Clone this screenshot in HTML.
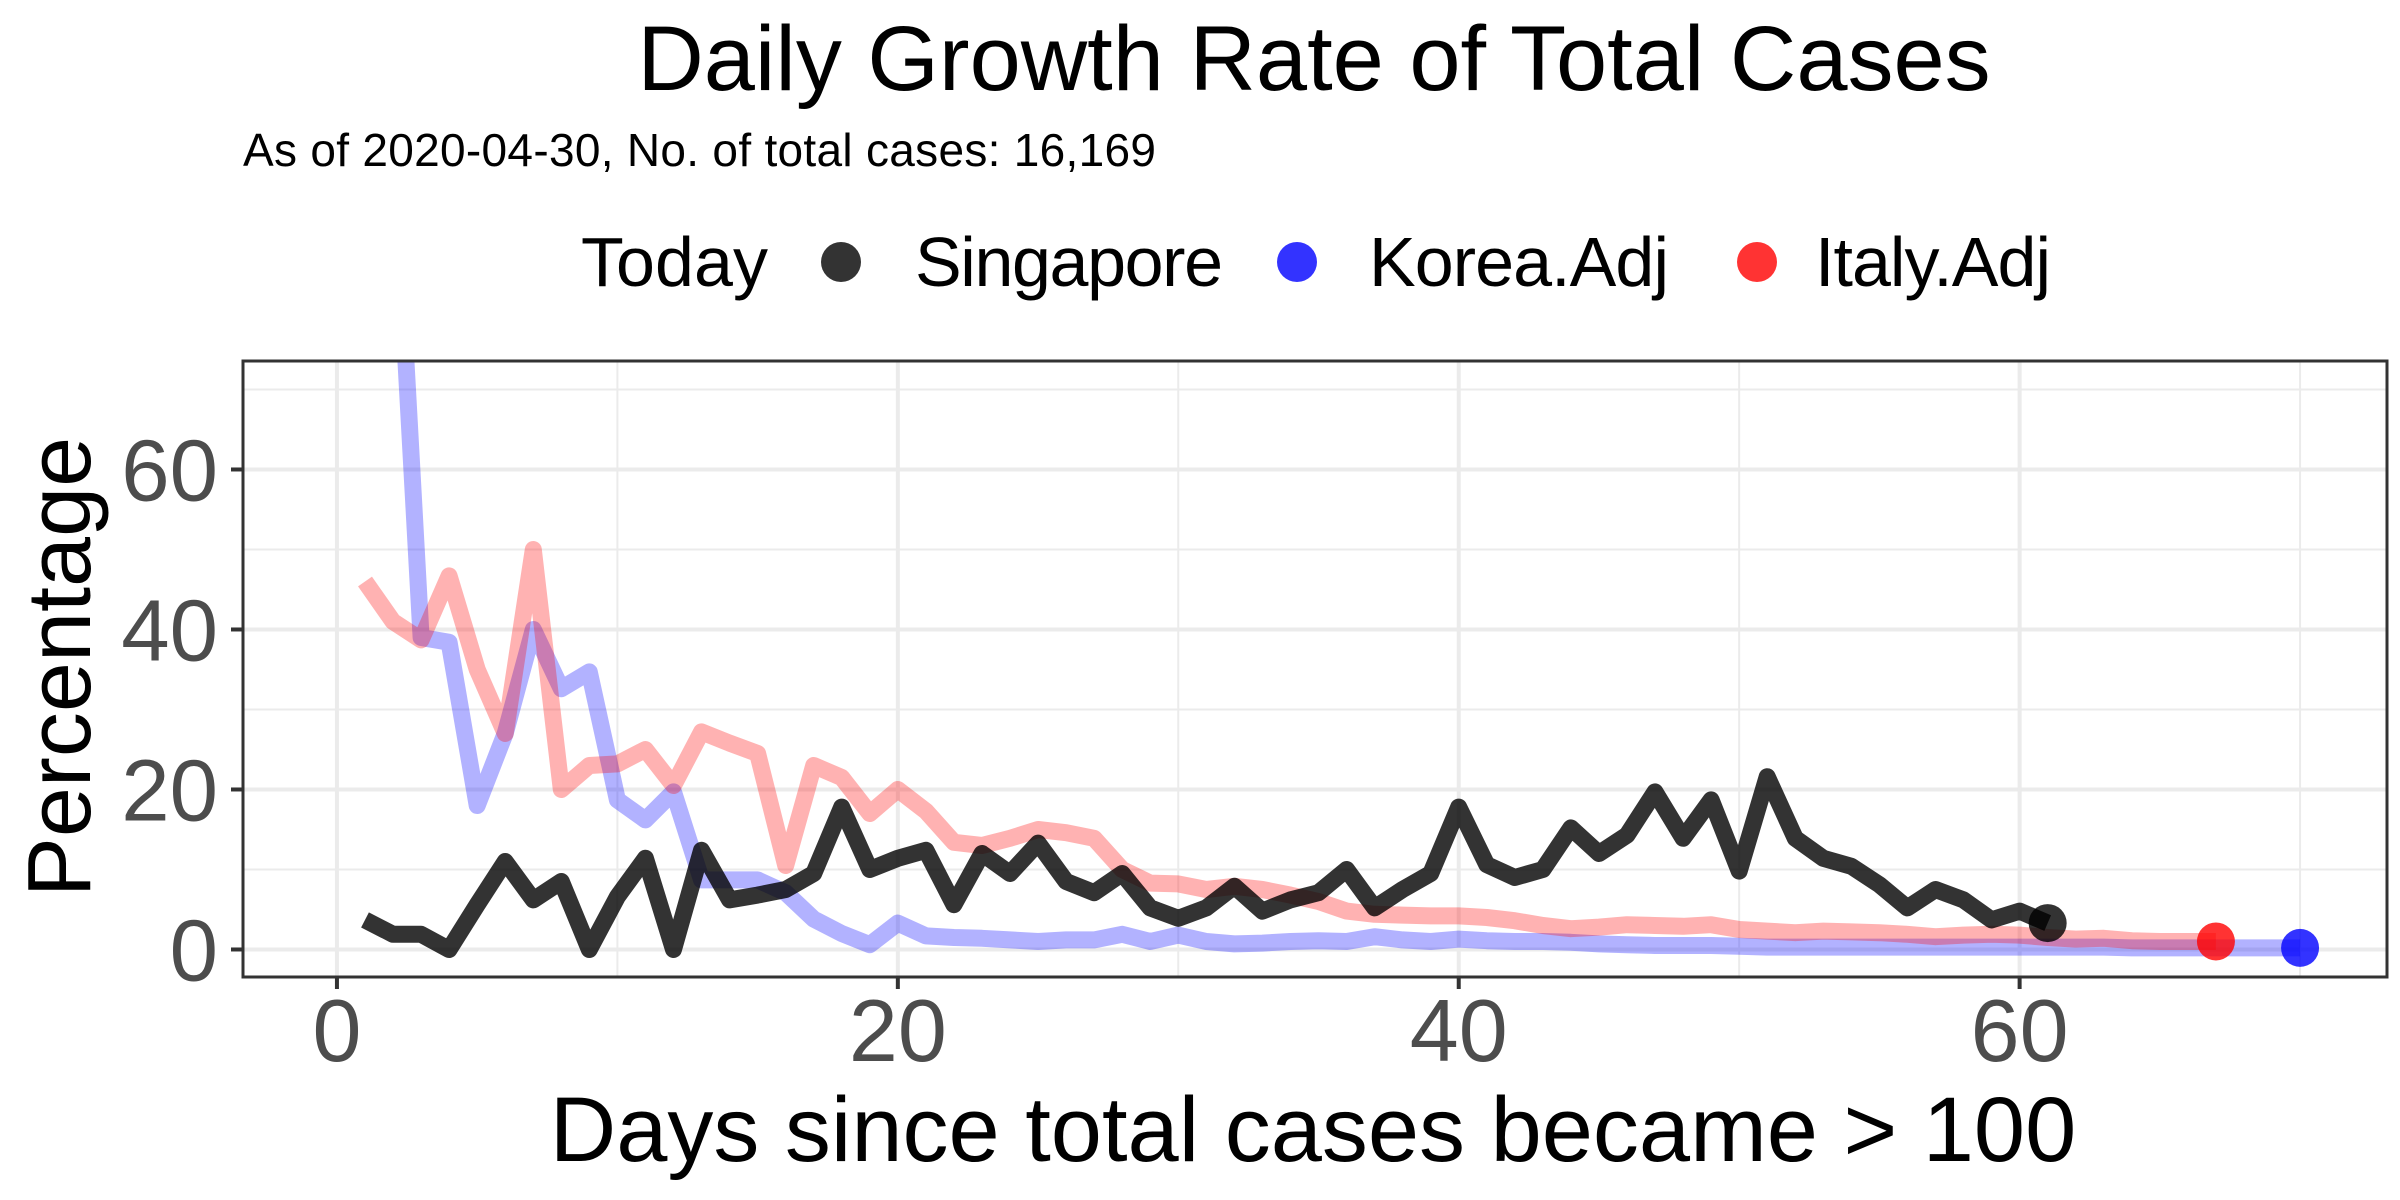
<!DOCTYPE html>
<html><head><meta charset="utf-8">
<style>
html,body{margin:0;padding:0;background:#fff;}
svg{display:block;font-family:"Liberation Sans",Arial,sans-serif;}
</style></head>
<body>
<svg id="chart" width="2400" height="1200" viewBox="0 0 2400 1200">
  <text x="1314" y="90" font-size="92" text-anchor="middle" fill="#000">Daily Growth Rate of Total Cases</text>
  <text x="243" y="166" font-size="46" fill="#000" textLength="913">As of 2020-04-30, No. of total cases: 16,169</text>
  <g>
    <text x="581" y="286" font-size="70" fill="#000" textLength="187">Today</text>
    <g>
      <circle cx="841" cy="262" r="20" fill="#000" fill-opacity="0.8"/>
      <text x="915" y="286" font-size="70" fill="#000" textLength="308">Singapore</text>
    </g>
    <g>
      <circle cx="1297" cy="262" r="20" fill="#0000ff" fill-opacity="0.8"/>
      <text x="1369" y="286" font-size="70" fill="#000" textLength="300">Korea.Adj</text>
    </g>
    <g>
      <circle cx="1757" cy="262" r="20" fill="#ff0000" fill-opacity="0.8"/>
      <text x="1815" y="286" font-size="70" fill="#000" textLength="236">Italy.Adj</text>
    </g>
  </g>
  <defs><clipPath id="pclip"><rect x="243" y="361" width="2144" height="616"/></clipPath></defs>
  <g id="grid"></g>
  <g id="series" clip-path="url(#pclip)"></g>
  <rect x="243" y="361" width="2144" height="616" fill="none" stroke="#333" stroke-width="3"/>
  <g id="axes"></g>
  <text transform="translate(90,667) rotate(-90)" font-size="90" text-anchor="middle" fill="#000">Percentage</text>
  <text x="1313" y="1161" font-size="92" text-anchor="middle" fill="#000">Days since total cases became &gt; 100</text>
</svg>
<script>
const xTicks = [0, 20, 40, 60];
const xMinor = [10, 30, 50, 70];
const yTicks = [0, 20, 40, 60];
const yMinor = [10, 30, 50, 70];
const singapore = [3.7,1.9,1.9,0,5.6,11,6.2,8.5,0,6.6,11.4,0,12.4,6.2,6.8,7.5,9.5,17.8,10,11.4,12.4,5.6,12,9.5,13.3,8.5,7.1,9.5,5.2,3.9,5.2,7.9,4.8,6.2,7.1,10,5.2,7.5,9.5,17.8,10.6,9,10,15.2,12,14.3,19.7,13.9,18.7,9.8,21.6,13.9,11.4,10.4,8.1,5.2,7.5,6.2,3.7,4.8,3.3];
const korea = [120,103,39,38.4,18,27,40,32.6,34.7,18.7,16.2,19.7,8.7,8.7,8.7,7.1,3.8,2,0.6,3.3,1.7,1.5,1.4,1.2,1,1.2,1.2,1.9,1,1.8,1,0.7,0.8,1,1.1,1,1.6,1.2,1,1.3,1.1,1,1,0.9,0.7,0.6,0.5,0.5,0.5,0.4,0.3,0.3,0.3,0.3,0.3,0.3,0.3,0.3,0.3,0.3,0.3,0.3,0.3,0.2,0.2,0.2,0.2,0.2,0.2,0.2];
const italy = [46,41,38.7,46.7,35,27,50,20,23,23.2,25,20.5,27.2,25.8,24.5,10.5,23,21.5,17,20,17.3,13.4,13,13.9,15,14.6,13.9,10,8.3,8.2,7.5,7.9,7.5,6.8,6,4.8,4.4,4.3,4.2,4.2,4,3.6,3,2.6,2.8,3.1,3,2.9,3.1,2.5,2.3,2.1,2.3,2.2,2.1,1.9,1.6,1.8,1.9,1.8,1.5,1.3,1.4,1.1,1,1,1];

const NS='http://www.w3.org/2000/svg';
const PL=243,PR=2387,PT=361,PB=977;
const XMIN=-3.35,XMAX=73.1,YMIN=-3.44,YMAX=73.56;
function xs(v){return PL+(v-XMIN)/(XMAX-XMIN)*(PR-PL);}
function ys(v){return PB-(v-YMIN)/(YMAX-YMIN)*(PB-PT);}
function mk(tag,attrs,parent){const e=document.createElementNS(NS,tag);for(const k in attrs)e.setAttribute(k,attrs[k]);parent.appendChild(e);return e;}

const grid=document.getElementById('grid');
const axes=document.getElementById('axes');
const series=document.getElementById('series');
mk('rect',{x:PL,y:PT,width:PR-PL,height:PB-PT,fill:'#fff'},grid);
yMinor.forEach(v=>{const l=mk('line',{x1:PL,x2:PR,y1:ys(v),y2:ys(v),stroke:'#ebebeb','stroke-width':2},grid);

});
xMinor.forEach(v=>{const l=mk('line',{x1:xs(v),x2:xs(v),y1:PT,y2:PB,stroke:'#ebebeb','stroke-width':2},grid);

});
yTicks.forEach(v=>{const l=mk('line',{x1:PL,x2:PR,y1:ys(v),y2:ys(v),stroke:'#ebebeb','stroke-width':4},grid);


const t=mk('line',{x1:231,x2:PL,y1:ys(v),y2:ys(v),stroke:'#333','stroke-width':4},axes);


const tx=mk('text',{x:218,y:ys(v)+31,'font-size':87,'text-anchor':'end',fill:'#4d4d4d'},axes);
tx.textContent=String(v);

});
xTicks.forEach(v=>{const l=mk('line',{x1:xs(v),x2:xs(v),y1:PT,y2:PB,stroke:'#ebebeb','stroke-width':4},grid);


const t=mk('line',{x1:xs(v),x2:xs(v),y1:PB,y2:PB+12,stroke:'#333','stroke-width':4},axes);


const tx=mk('text',{x:xs(v),y:1061,'font-size':88,'text-anchor':'middle',fill:'#4d4d4d'},axes);
tx.textContent=String(v);

});

function drawSeries(data,color,alpha,name){
  const pts=data.map((v,i)=>xs(i+1).toFixed(1)+','+ys(v).toFixed(1)).join(' ');
  const pl=mk('polyline',{points:pts,fill:'none',stroke:color,'stroke-opacity':alpha,'stroke-width':17,'stroke-linejoin':'round','stroke-linecap':'butt'},series);
  
  
}
function drawDot(data,color,name){
  const n=data.length;
  const c=mk('circle',{cx:xs(n),cy:ys(data[n-1]),r:19,fill:color,'fill-opacity':0.8},series);
  
  
}
drawSeries(korea,'#0000ff',0.3,'korea');
drawSeries(italy,'#ff0000',0.3,'italy');
drawSeries(singapore,'#000000',0.8,'singapore');
drawDot(singapore,'#000000','singapore');
drawDot(korea,'#0000ff','korea');
drawDot(italy,'#ff0000','italy');
</script>
</body></html>
